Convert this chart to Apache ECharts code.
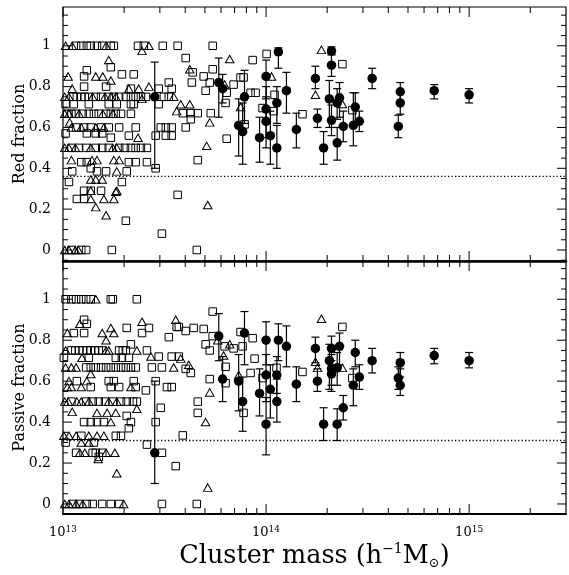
<!DOCTYPE html>
<html>
<head>
<meta charset="utf-8">
<script src="https://cdn.jsdelivr.net/npm/echarts@6/dist/echarts.min.js"></script>
<style>
html,body{margin:0;padding:0;background:#fff}
#main{width:569px;height:575px}
</style>
</head>
<body>
<div id="main"></div>
<script>
// cluster masses are in units of 1e13 h^-1 Msun
// --- red fraction panel ---
var sqRed = [
  [1.16,1],[1.23,1],[1.31,1],[1.37,1],[1.47,1],[1.56,1],[1.72,1],[1.78,1],[2.34,1],[2.50,1],[3.10,1],[3.67,1],[5.46,1],
  [1.31,0.88],[1.72,0.895],[1.95,0.86],[2.23,0.86],[1.27,0.85],[1.27,0.80],[1.63,0.80],[3.32,0.82],[3.43,0.79],[2.16,0.79],[2.96,0.79],
  [4.02,0.94],[8.59,0.93],[10.06,0.96],[4.35,0.87],[5.46,0.885],[4.93,0.85],[4.31,0.82],[5.28,0.82],[5.04,0.78],[6.92,0.81],
  [7.49,0.845],[7.75,0.845],[6.40,0.77],[8.39,0.77],[8.88,0.77],[6.32,0.72],[9.61,0.695],[10.89,0.68],[11.01,0.76],
  [3.89,0.67],[4.26,0.67],[4.61,0.67],[5.34,0.67],[4.26,0.64],[4.02,0.60],[7.84,0.615],[6.40,0.545],[4.61,0.44],[3.67,0.27],
  [4.56,0],[23.76,0.91],[15.11,0.665],[26.61,0.685],
  [1.12,0.75],[1.17,0.75],[1.23,0.75],[1.28,0.75],[1.34,0.75],[1.45,0.75],[1.54,0.75],[1.68,0.75],[1.78,0.75],[1.89,0.75],
  [2.04,0.75],[2.16,0.75],[2.28,0.75],[2.42,0.75],[2.56,0.75],[3.14,0.75],[3.32,0.75],
  [1.03,0.714],[1.13,0.714],[1.34,0.714],[1.68,0.714],[1.84,0.714],[2.16,0.714],[2.23,0.714],[2.96,0.714],
  [1.05,0.667],[1.10,0.667],[1.16,0.667],[1.25,0.667],[1.34,0.667],[1.42,0.667],[1.50,0.667],[1.63,0.667],[1.72,0.667],
  [1.82,0.667],[1.93,0.667],[2.16,0.667],
  [1.16,0.6],[1.27,0.6],[1.37,0.6],[1.54,0.6],[1.68,0.6],[1.89,0.6],[2.28,0.6],[3.03,0.6],[3.21,0.6],[3.43,0.6],
  [1.03,0.571],[1.31,0.571],[1.45,0.571],[1.56,0.571],[2.11,0.56],[2.86,0.56],[3.21,0.56],[3.43,0.56],[1.72,0.55],
  [1.10,0.5],[1.20,0.5],[1.30,0.5],[1.45,0.5],[1.56,0.5],[1.68,0.5],[1.89,0.5],[2.02,0.5],[2.16,0.5],[2.28,0.5],[2.42,0.5],[2.59,0.5],
  [1.23,0.43],[1.31,0.43],[2.11,0.43],[2.28,0.43],[2.59,0.43],[1.37,0.40],[2.86,0.40],
  [1.11,0.385],[1.47,0.385],[1.63,0.385],[2.06,0.385],[1.07,0.333],[1.95,0.333],
  [1.27,0.29],[1.37,0.29],[1.54,0.29],[1.17,0.25],[1.27,0.25],[2.04,0.143],[3.07,0.08],
  [1.10,0],[1.23,0],[1.30,0],[1.74,0]
];
var triRed = [
  [1.03,1],[1.11,1],[1.63,1],[2.65,1],[2.45,0.975],[1.68,0.93],[6.62,0.935],[10.64,0.85],[4.21,0.885],[1.06,0.85],[1.45,0.85],
  [1.57,0.85],[1.72,0.83],[1.11,0.79],[2.11,0.79],[2.36,0.79],[2.65,0.80],[6.25,0.81],[2.45,0.74],[3.51,0.75],[3.63,0.68],
  [7.49,0.70],[3.80,0.714],[4.21,0.714],[1.08,0.625],[5.28,0.625],[2.34,0.55],[5.10,0.51],[1.10,0.44],[1.39,0.44],[1.47,0.44],
  [1.78,0.44],[1.89,0.44],[1.84,0.385],[1.37,0.345],[1.45,0.345],[1.56,0.345],[1.37,0.29],[1.82,0.285],[1.84,0.29],
  [1.37,0.25],[1.59,0.25],[1.78,0.25],[1.45,0.21],[1.63,0.17],[5.16,0.22],[18.74,0.98],[17.51,0.76],[23.76,0.715],
  [1.02,0.75],[1.07,0.75],[1.40,0.75],[1.61,0.75],[1.72,0.75],[1.82,0.75],
  [1.02,0.667],[1.07,0.667],[1.20,0.667],[1.57,0.667],[1.76,0.667],
  [1.10,0.6],[1.23,0.6],[1.45,0.6],[1.59,0.6],
  [1.02,0.5],[1.07,0.5],[1.15,0.5],[1.37,0.5],[1.76,0.5],[1.84,0.5],
  [1.02,0],[1.07,0],[1.15,0],[1.19,0]
];
// [mass, fraction, lower, upper]
var grpRed = [
  [2.83,0.75,0.40,0.92],[5.85,0.82,0.65,0.94],[6.11,0.79,0.72,0.86],[7.33,0.61,0.46,0.74],[7.67,0.58,0.42,0.72],
  [7.83,0.75,0.62,0.88],[9.29,0.55,0.43,0.65],[10.0,0.85,0.74,0.93],[10.0,0.69,0.55,0.80],[10.0,0.63,0.50,0.75],
  [10.5,0.56,0.42,0.68],[11.3,0.50,0.40,0.61],[11.3,0.72,0.62,0.80],[11.5,0.97,0.89,0.99],[12.6,0.78,0.67,0.87],
  [14.1,0.59,0.50,0.67],[17.5,0.84,0.79,0.90],[17.9,0.645,0.60,0.69],[19.2,0.50,0.42,0.58],[20.5,0.74,0.60,0.83],
  [21.0,0.975,0.955,0.995],[21.0,0.905,0.85,0.96],[21.0,0.635,0.56,0.71],[22.4,0.525,0.44,0.60],[22.4,0.72,0.64,0.79],
  [23.0,0.745,0.65,0.82],[24.0,0.605,0.53,0.68],[26.9,0.61,0.51,0.77],[27.5,0.70,0.63,0.77],[28.8,0.63,0.58,0.68],
  [33.3,0.84,0.79,0.89],[44.8,0.605,0.55,0.66],[45.8,0.775,0.72,0.82],[45.8,0.72,0.665,0.77],[67.3,0.78,0.74,0.81],
  [100,0.76,0.72,0.79]
];
var redCut = 0.36;

// --- passive fraction panel ---
var sqPas = [
  [1.03,1],[1.10,1],[1.16,1],[1.23,1],[1.30,1],[1.37,1],[1.72,1],[1.76,1],[2.31,1],
  [1.27,0.90],[1.31,0.88],[2.06,0.86],[2.65,0.86],[3.63,0.865],[1.13,0.835],[1.27,0.835],[2.45,0.835],[3.32,0.815],[2.16,0.78],[2.59,0.75],
  [1.01,0.714],[1.34,0.714],[1.82,0.714],[1.95,0.714],[2.11,0.714],[2.96,0.72],[3.43,0.72],[3.72,0.72],[2.74,0.667],[3.07,0.667],
  [1.17,0.6],[1.68,0.6],[1.78,0.6],[2.23,0.6],[2.86,0.6],
  [1.37,0.571],[1.72,0.571],[1.89,0.571],[2.28,0.571],[3.25,0.571],[3.43,0.571],[2.56,0.555],[3.03,0.47],[2.06,0.43],
  [1.27,0.40],[1.37,0.40],[1.47,0.40],[1.59,0.40],[2.16,0.40],[2.11,0.37],[2.86,0.40],
  [1.23,0.333],[1.82,0.333],[1.93,0.333],[1.03,0.30],[1.42,0.30],[2.59,0.29],
  [1.16,0.25],[1.40,0.25],[1.45,0.25],[1.56,0.25],[3.07,0.25],[1.50,0.23],[3.59,0.185],
  [1.72,0],[1.89,0],[3.07,0],[4.56,0],
  [1.10,0.75],[1.15,0.75],[1.20,0.75],[1.25,0.75],[1.31,0.75],[1.37,0.75],[1.44,0.75],[1.50,0.75],[1.56,0.75],[1.89,0.75],[1.97,0.75],[2.04,0.75],
  [1.30,0.667],[1.37,0.667],[1.45,0.667],[1.54,0.667],[1.63,0.667],[1.72,0.667],[1.82,0.667],[1.93,0.667],[2.04,0.667],[2.16,0.667],[2.28,0.667],
  [1.10,0.5],[1.30,0.5],[1.40,0.5],[1.50,0.5],[1.61,0.5],[1.76,0.5],[1.93,0.5],[2.06,0.5],[2.21,0.5],[2.31,0.5],
  [1.12,0],[1.20,0],[1.31,0],[1.40,0],[1.56,0],
  [5.46,0.94],[3.72,0.865],[4.02,0.845],[4.40,0.86],[4.93,0.855],[5.46,0.82],[7.49,0.84],[8.59,0.81],[5.04,0.78],[5.28,0.75],
  [6.25,0.77],[6.92,0.76],[7.66,0.77],[8.78,0.71],[6.32,0.67],[8.39,0.64],[9.61,0.615],[11.26,0.665],[5.28,0.61],[6.32,0.59],
  [4.61,0.50],[4.61,0.445],[7.75,0.445],[3.89,0.335],[4.02,0.66],[4.26,0.64],[23.76,0.865],[15.11,0.645],[26.61,0.615]
];
var triPas = [
  [1.45,1],[1.21,0.88],[1.72,0.86],[2.45,0.89],[3.59,0.90],[1.05,0.835],[1.56,0.835],[1.78,0.835],[1.63,0.80],[1.03,0.75],
  [1.63,0.75],[1.68,0.75],[2.31,0.75],[1.24,0.714],[2.71,0.72],[1.03,0.667],[1.10,0.667],[1.16,0.667],[3.51,0.667],[1.37,0.635],
  [1.07,0.6],[1.31,0.6],[1.05,0.571],[1.10,0.571],[1.23,0.571],[2.16,0.571],[1.11,0.45],[2.31,0.465],[1.47,0.445],[1.65,0.445],
  [1.82,0.445],[1.72,0.40],[1.01,0.333],[1.07,0.333],[1.16,0.333],[1.34,0.333],[1.47,0.333],[1.59,0.333],[1.23,0.30],[1.34,0.30],
  [1.21,0.25],[1.28,0.25],[1.63,0.25],[1.80,0.25],[1.49,0.22],[1.84,0.15],[1.99,0],[1.02,0],[1.07,0],[1.16,0],[1.25,0],
  [1.02,0.5],[1.06,0.5],[1.17,0.5],[1.23,0.5],[1.34,0.5],[1.68,0.5],[1.84,0.5],
  [6.62,0.78],[6.18,0.725],[5.78,0.80],[7.33,0.63],[5.28,0.545],[5.04,0.40],[5.16,0.08],[3.80,0.71],[4.16,0.68],
  [18.74,0.905],[17.51,0.695],[17.91,0.665],[23.76,0.665]
];
var grpPas = [
  [2.83,0.25,0.10,0.60],[5.85,0.82,0.70,0.93],[6.11,0.61,0.50,0.72],[7.33,0.60,0.455,0.73],[7.67,0.50,0.355,0.62],
  [7.83,0.835,0.68,0.94],[9.29,0.54,0.43,0.66],[10.0,0.80,0.68,0.89],[10.0,0.63,0.50,0.73],[10.0,0.39,0.24,0.52],
  [10.5,0.56,0.42,0.68],[11.3,0.50,0.40,0.61],[11.3,0.63,0.54,0.72],[11.5,0.80,0.70,0.88],[12.6,0.77,0.67,0.87],
  [14.1,0.585,0.50,0.67],[17.5,0.76,0.69,0.815],[17.9,0.60,0.55,0.66],[19.2,0.39,0.31,0.47],[20.5,0.70,0.56,0.78],
  [21.0,0.76,0.68,0.82],[21.0,0.66,0.58,0.73],[21.0,0.635,0.55,0.70],[22.4,0.39,0.31,0.465],[22.4,0.665,0.58,0.74],
  [23.0,0.77,0.68,0.835],[24.0,0.47,0.41,0.53],[26.9,0.58,0.48,0.66],[27.5,0.74,0.67,0.80],[28.8,0.62,0.56,0.68],
  [33.3,0.70,0.64,0.76],[44.8,0.615,0.56,0.67],[45.8,0.69,0.62,0.74],[45.8,0.58,0.53,0.66],[67.3,0.725,0.685,0.76],
  [100,0.70,0.665,0.74]
];
var pasCut = 0.31;

// axis ticks
var xMajor = [1e13, 1e14, 1e15];
var xMinor = [2e13,3e13,4e13,5e13,6e13,7e13,8e13,9e13,2e14,3e14,4e14,5e14,6e14,7e14,8e14,9e14,2e15];
var yMajor = [0, 0.2, 0.4, 0.6, 0.8, 1];
var yMinor = [-0.05,0.05,0.1,0.15,0.25,0.3,0.35,0.45,0.5,0.55,0.65,0.7,0.75,0.85,0.9,0.95,1.05,1.1,1.15];

var XMIN = 1e13, XMAX = 3e15;
var YR = [[-0.054, 1.19], [-0.049, 1.187]];
var FONT = 'DejaVu Serif';
var U = 1e13;

function scale(arr) {
  return arr.map(function (p) { var q = p.slice(); q[0] = q[0] * U; return q; });
}

function errItem(params, api) {
  var x = api.value(0);
  var lo = api.coord([x, api.value(2)]);
  var hi = api.coord([x, api.value(3)]);
  var st = {stroke: '#000', lineWidth: 1.2};
  return {type: 'group', children: [
    {type: 'line', shape: {x1: lo[0], y1: lo[1], x2: hi[0], y2: hi[1]}, style: st},
    {type: 'line', shape: {x1: lo[0] - 4, y1: lo[1], x2: lo[0] + 4, y2: lo[1]}, style: st},
    {type: 'line', shape: {x1: hi[0] - 4, y1: hi[1], x2: hi[0] + 4, y2: hi[1]}, style: st}
  ]};
}

function xTickItem(params, api) {
  var v = api.value(0), len = api.value(3) ? 10 : 6;
  var b = api.coord([v, api.value(1)]), t = api.coord([v, api.value(2)]);
  var st = {stroke: '#000', lineWidth: 1};
  return {type: 'group', children: [
    {type: 'line', shape: {x1: b[0], y1: b[1], x2: b[0], y2: b[1] - len}, style: st},
    {type: 'line', shape: {x1: t[0], y1: t[1], x2: t[0], y2: t[1] + len}, style: st}
  ]};
}

function yTickItem(params, api) {
  var v = api.value(2), len = api.value(3) ? 9 : 5;
  var l = api.coord([api.value(0), v]), r = api.coord([api.value(1), v]);
  var st = {stroke: '#000', lineWidth: 1};
  return {type: 'group', children: [
    {type: 'line', shape: {x1: l[0], y1: l[1], x2: l[0] + len, y2: l[1]}, style: st},
    {type: 'line', shape: {x1: r[0], y1: r[1], x2: r[0] - len, y2: r[1]}, style: st}
  ]};
}

function panelSeries(gi, sq, tri, grp, cut) {
  var ymin = YR[gi][0], ymax = YR[gi][1];
  var xt = xMajor.map(function (v) { return [v, ymin, ymax, 1]; })
    .concat(xMinor.map(function (v) { return [v, ymin, ymax, 0]; }));
  var yt = yMajor.map(function (v) { return [XMIN, XMAX, v, 1]; })
    .concat(yMinor.map(function (v) { return [XMIN, XMAX, v, 0]; }));
  var base = {xAxisIndex: gi, yAxisIndex: gi, silent: true};
  var open = {color: 'rgba(0,0,0,0)', borderColor: '#000', borderWidth: 1, opacity: 1};
  return [
    Object.assign({type: 'custom', renderItem: xTickItem, data: xt, encode: {x: 0, y: 1}, z: 5}, base),
    Object.assign({type: 'custom', renderItem: yTickItem, data: yt, encode: {x: 0, y: 2}, z: 5}, base),
    Object.assign({type: 'line', data: [[XMIN, cut], [XMAX, cut]], symbol: 'none',
      lineStyle: {color: '#000', width: 1.3, type: [1.3, 2.2]}, z: 1}, base),
    Object.assign({type: 'scatter', data: scale(sq), symbol: 'rect', symbolSize: 7.5, itemStyle: open, z: 2}, base),
    Object.assign({type: 'scatter', data: scale(tri), symbol: 'triangle', symbolSize: [8.5, 7.5], itemStyle: open, z: 2}, base),
    Object.assign({type: 'custom', renderItem: errItem, data: scale(grp), encode: {x: 0, y: 1}, z: 3}, base),
    Object.assign({type: 'scatter', data: scale(grp).map(function (p) { return [p[0], p[1]]; }),
      symbol: 'circle', symbolSize: 9.5, itemStyle: {color: '#000', opacity: 1}, z: 4}, base)
  ];
}

function xAxisCfg(gi) {
  var cfg = {
    type: 'log', logBase: 10, gridIndex: gi, min: XMIN, max: XMAX,
    axisLine: {show: true, onZero: false, lineStyle: {color: '#000', width: gi === 0 ? 2.5 : 2}},
    axisTick: {show: false}, minorTick: {show: false}, splitLine: {show: false},
    axisLabel: {show: false}
  };
  if (gi === 1) {
    cfg.axisLabel = {
      show: true, margin: 11, showMaxLabel: false,
      formatter: function (v) {
        var e = Math.log(v) / Math.LN10;
        if (Math.abs(e - Math.round(e)) > 1e-6) return '';
        return '{b|10}{s|' + Math.round(e) + '}';
      },
      rich: {
        b: {fontFamily: FONT, fontSize: 13, lineHeight: 15, color: '#000'},
        s: {fontFamily: FONT, fontSize: 9, lineHeight: 10, verticalAlign: 'top', color: '#000'}
      }
    };
    cfg.name = '{t|Cluster mass (h}{p|\u22121}{t|M}{d|\u2299}{t|)}';
    cfg.nameLocation = 'middle';
    cfg.nameGap = 28;
    cfg.nameMoveOverlap = false;
    cfg.nameTextStyle = {
      rich: {
        t: {fontFamily: FONT, fontSize: 25.5, lineHeight: 28, color: '#000'},
        p: {fontFamily: FONT, fontSize: 14, lineHeight: 14, verticalAlign: 'top', color: '#000'},
        d: {fontFamily: FONT, fontSize: 13, lineHeight: 12, verticalAlign: 'bottom', color: '#000'}
      }
    };
  }
  return cfg;
}

function yAxisCfg(gi, title) {
  return {
    type: 'value', gridIndex: gi, min: YR[gi][0], max: YR[gi][1],
    axisLine: {show: false}, axisTick: {show: false}, splitLine: {show: false},
    axisLabel: {
      customValues: yMajor, margin: 12, color: '#000', fontFamily: FONT, fontSize: 14,
      formatter: function (v) { return String(Math.round(v * 10) / 10); }
    },
    name: title, nameLocation: 'middle', nameGap: 35, nameMoveOverlap: false,
    nameTextStyle: {fontFamily: FONT, fontSize: 16, color: '#000'}
  };
}

var chart = echarts.init(document.getElementById('main'), null, {renderer: 'canvas'});
chart.setOption({
  animation: false,
  backgroundColor: '#fff',
  grid: [
    {left: 63, top: 7, width: 503, height: 254, show: true, borderColor: '#000', borderWidth: 1.2,
      backgroundColor: 'transparent', containLabel: false, outerBoundsMode: 'none'},
    {left: 63, top: 261, width: 503, height: 253, show: true, borderColor: '#000', borderWidth: 1.2,
      backgroundColor: 'transparent', containLabel: false, outerBoundsMode: 'none'}
  ],
  xAxis: [xAxisCfg(0), xAxisCfg(1)],
  yAxis: [yAxisCfg(0, 'Red fraction'), yAxisCfg(1, 'Passive fraction')],
  series: panelSeries(0, sqRed, triRed, grpRed, redCut).concat(panelSeries(1, sqPas, triPas, grpPas, pasCut))
});
</script>
</body>
</html>
